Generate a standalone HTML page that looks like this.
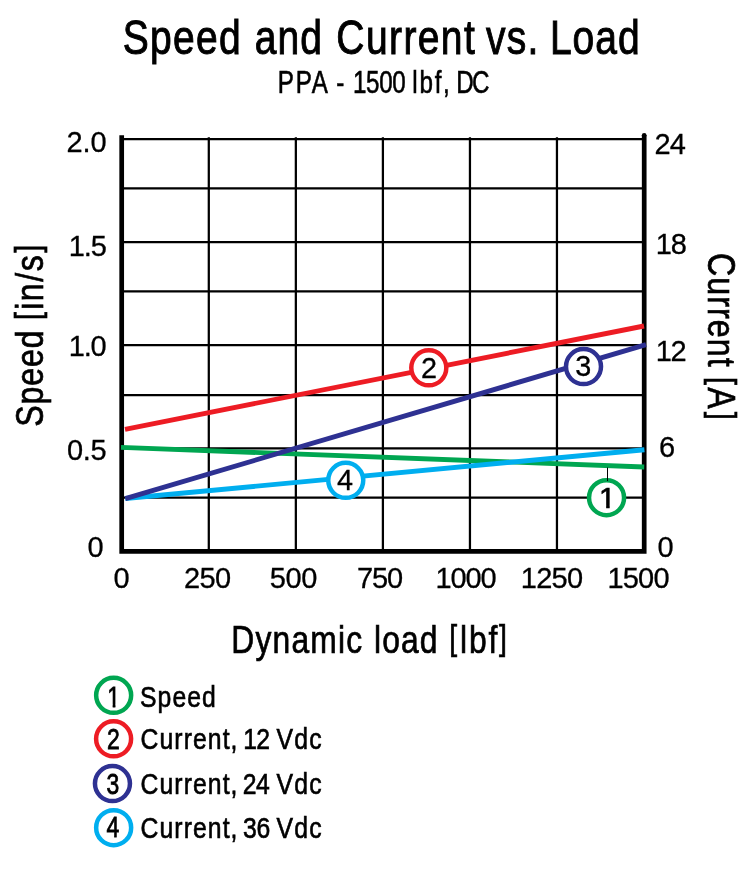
<!DOCTYPE html>
<html lang="en"><head><meta charset="utf-8"><title>Speed and Current vs. Load</title>
<style>html,body{margin:0;padding:0;background:#fff}svg{display:block}text{font-family:"Liberation Sans",Arial,Helvetica,sans-serif;fill:#000}</style></head><body>
<svg width="750" height="870" viewBox="0 0 750 870">
<rect width="750" height="870" fill="#fff"/>
<text transform="translate(0,53.8) scale(0.82,1)" font-size="47.6" stroke="#000" stroke-width="0.95"><tspan x="149.79" letter-spacing="1.539">Speed</tspan> <tspan x="310.71" letter-spacing="1.286">and</tspan> <tspan x="410.21" letter-spacing="1.689">Current</tspan> <tspan x="592.63" letter-spacing="1.473">vs.</tspan> <tspan x="670.60" letter-spacing="1.248">Load</tspan></text>
<text transform="translate(0,93.4) scale(0.78,1)" font-size="31" stroke="#000" stroke-width="0.6"><tspan x="356.10" letter-spacing="2.333">PPA</tspan> <tspan x="431.10" letter-spacing="0.0">-</tspan> <tspan x="452.55" letter-spacing="-0.458">1500</tspan> <tspan x="528.55" letter-spacing="2.278">lbf,</tspan> <tspan x="584.82" letter-spacing="-2.112">DC</tspan></text>
<g stroke="#000" stroke-width="2.25" fill="none">
<line x1="208.8" y1="137.2" x2="208.8" y2="551"/>
<line x1="295.85" y1="137.2" x2="295.85" y2="551"/>
<line x1="382.9" y1="137.2" x2="382.9" y2="551"/>
<line x1="469.95" y1="137.2" x2="469.95" y2="551"/>
<line x1="556.95" y1="137.2" x2="556.95" y2="551"/>
<line x1="121.9" y1="139.1" x2="644.4" y2="139.1"/>
<line x1="121.9" y1="188.3" x2="644.4" y2="188.3"/>
<line x1="121.9" y1="242.1" x2="644.4" y2="242.1"/>
<line x1="121.9" y1="291.4" x2="644.4" y2="291.4"/>
<line x1="121.9" y1="345.2" x2="644.4" y2="345.2"/>
<line x1="121.9" y1="395.0" x2="644.4" y2="395.0"/>
<line x1="121.9" y1="448.3" x2="644.4" y2="448.3"/>
<line x1="121.9" y1="497.7" x2="644.4" y2="497.7"/>
</g>
<path d="M121.7 135.3V551.3H644.2V135.3" stroke="#000" stroke-width="4.7" fill="none"/><circle cx="644.2" cy="135.3" r="2.35" fill="#000"/>
<g stroke-width="4.9" fill="none">
<line x1="121" y1="447.4" x2="644.2" y2="467" stroke="#00a651"/>
<line x1="125.3" y1="498.5" x2="644.4" y2="449.7" stroke="#00aeef"/>
<line x1="125.3" y1="498.6" x2="646" y2="344.6" stroke="#2e3192"/>
<line x1="125" y1="429.3" x2="644" y2="326" stroke="#ed1c24"/>
</g>
<clipPath id="k1"><path d="M590 480H625V505H609.64V510H606.18V505H590Z"/></clipPath><clipPath id="k2"><path d="M100 680H125V704H115.38V709H112.7V704H100Z"/></clipPath>
<circle cx="606.55" cy="497.65" r="17.5" fill="#fff" stroke="#00a651" stroke-width="4.5"/><g clip-path="url(#k1)"><text transform="translate(607.4,507.7)" font-size="30" text-anchor="middle" stroke="#000" stroke-width="0.7">1</text></g>
<line x1="607.5" y1="467.5" x2="607.5" y2="481" stroke="#000" stroke-width="1"/>
<circle cx="428.8" cy="367.85" r="17.5" fill="#fff" stroke="#ed1c24" stroke-width="4.5"/><text transform="translate(429.05,378.2)" font-size="28.8" text-anchor="middle" stroke="#000" stroke-width="0.3">2</text>
<circle cx="583.5" cy="366.6" r="17.5" fill="#fff" stroke="#2e3192" stroke-width="4.5"/><text transform="translate(583.35,376.1)" font-size="28.8" text-anchor="middle" stroke="#000" stroke-width="0.3">3</text>
<circle cx="345.75" cy="480.35" r="17.5" fill="#fff" stroke="#00aeef" stroke-width="4.5"/><text transform="translate(345.0,489.5)" font-size="28.8" text-anchor="middle" stroke="#000" stroke-width="0.3">4</text>
<text transform="translate(66.62,152.3)" font-size="29.0" letter-spacing="-0.151" stroke="#000" stroke-width="0.3">2.0</text>
<text transform="translate(68.68,256.0)" font-size="29.0" letter-spacing="-1.059" stroke="#000" stroke-width="0.3">1.5</text>
<text transform="translate(68.68,355.5)" font-size="29.0" letter-spacing="-1.143" stroke="#000" stroke-width="0.3">1.0</text>
<text transform="translate(67.07,460.0)" font-size="29.0" letter-spacing="-0.418" stroke="#000" stroke-width="0.3">0.5</text>
<text transform="translate(87.57,556.8)" font-size="29.0" letter-spacing="0.0" stroke="#000" stroke-width="0.3">0</text>
<text transform="translate(654.62,153.8)" font-size="29.0" letter-spacing="-0.902" stroke="#000" stroke-width="0.3">24</text>
<text transform="translate(655.78,253.8)" font-size="29.0" letter-spacing="-1.063" stroke="#000" stroke-width="0.3">18</text>
<text transform="translate(655.78,361.2)" font-size="29.0" letter-spacing="-1.533" stroke="#000" stroke-width="0.3">12</text>
<text transform="translate(658.95,456.7)" font-size="29.0" letter-spacing="0.0" stroke="#000" stroke-width="0.3">6</text>
<text transform="translate(657.57,557.0)" font-size="29.0" letter-spacing="0.0" stroke="#000" stroke-width="0.3">0</text>
<text transform="translate(113.47,587.6)" font-size="29.0" letter-spacing="0.0" stroke="#000" stroke-width="0.3">0</text>
<text transform="translate(184.12,587.6)" font-size="29.0" letter-spacing="-0.739" stroke="#000" stroke-width="0.3">250</text>
<text transform="translate(269.76,587.6)" font-size="29.0" letter-spacing="-0.359" stroke="#000" stroke-width="0.3">500</text>
<text transform="translate(356.90,587.6)" font-size="29.0" letter-spacing="-1.127" stroke="#000" stroke-width="0.3">750</text>
<text transform="translate(435.38,587.6)" font-size="29.0" letter-spacing="-1.116" stroke="#000" stroke-width="0.3">1000</text>
<text transform="translate(520.68,587.6)" font-size="29.0" letter-spacing="-0.677" stroke="#000" stroke-width="0.3">1250</text>
<text transform="translate(607.38,587.6)" font-size="29.0" letter-spacing="-0.783" stroke="#000" stroke-width="0.3">1500</text>
<text transform="translate(0,652.9) scale(0.82,1)" font-size="38.8" stroke="#000" stroke-width="0.7"><tspan x="282.00" y="0" letter-spacing="1.481">Dynamic</tspan> <tspan x="456.04" y="0" letter-spacing="1.385">load</tspan> <tspan x="547.88" font-size="34.6" y="-2.75" letter-spacing="0.0">[</tspan><tspan x="561.04" y="0" letter-spacing="2.224">lbf</tspan><tspan x="608.62" font-size="34.6" y="-2.75" letter-spacing="0.0">]</tspan></text>
<text transform="translate(42.9,425.6) rotate(-90) scale(0.82,1)" font-size="39.2" stroke="#000" stroke-width="0.7"><tspan x="-1.43" y="0" letter-spacing="1.038">Speed</tspan> <tspan x="128.85" font-size="34.6" y="-2.75" letter-spacing="0.0">[</tspan><tspan x="141.27" y="0" letter-spacing="1.835">in/s</tspan><tspan x="210.70" font-size="34.6" y="-2.75" letter-spacing="0.0">]</tspan></text>
<text transform="translate(708.2,254.3) rotate(90) scale(0.82,1)" font-size="39.2" stroke="#000" stroke-width="0.7"><tspan x="-1.56" y="0" letter-spacing="1.335">Current</tspan> <tspan x="149.71" font-size="34.6" y="-2.75" letter-spacing="0.0">[</tspan><tspan x="161.99" y="0" letter-spacing="0.0">A</tspan><tspan x="191.91" font-size="34.6" y="-2.75" letter-spacing="0.0">]</tspan></text>
<circle cx="113.65" cy="695.35" r="17.5" fill="#fff" stroke="#00a651" stroke-width="4.5"/><g clip-path="url(#k2)"><text transform="translate(113.5,706.7) scale(0.78,1)" font-size="29.4" text-anchor="middle" stroke="#000" stroke-width="0.8">1</text></g>
<text transform="translate(0,706.6) scale(0.82,1)" font-size="30.2" stroke="#000" stroke-width="0.65"><tspan x="170.80" letter-spacing="1.272">Speed</tspan></text>
<circle cx="113.6" cy="738.85" r="17.5" fill="#fff" stroke="#ed1c24" stroke-width="4.5"/><text transform="translate(113.25,749.2) scale(0.78,1)" font-size="29.4" text-anchor="middle" stroke="#000" stroke-width="0.8">2</text>
<text transform="translate(0,749.2) scale(0.82,1)" font-size="30.2" stroke="#000" stroke-width="0.65"><tspan x="171.40" letter-spacing="1.306">Current,</tspan> <tspan x="296.54" letter-spacing="-0.67">12</tspan> <tspan x="337.09" letter-spacing="1.49">Vdc</tspan></text>
<circle cx="112.45" cy="783.6" r="17.5" fill="#fff" stroke="#2e3192" stroke-width="4.5"/><text transform="translate(112.85,793.8) scale(0.78,1)" font-size="29.4" text-anchor="middle" stroke="#000" stroke-width="0.8">3</text>
<text transform="translate(0,793.7) scale(0.82,1)" font-size="30.2" stroke="#000" stroke-width="0.65"><tspan x="171.40" letter-spacing="1.306">Current,</tspan> <tspan x="295.98" letter-spacing="-0.674">24</tspan> <tspan x="337.09" letter-spacing="1.49">Vdc</tspan></text>
<circle cx="113.65" cy="827.65" r="17.5" fill="#fff" stroke="#00aeef" stroke-width="4.5"/><text transform="translate(112.85,837.3) scale(0.78,1)" font-size="29.4" text-anchor="middle" stroke="#000" stroke-width="0.8">4</text>
<text transform="translate(0,838.1) scale(0.82,1)" font-size="30.2" stroke="#000" stroke-width="0.65"><tspan x="171.40" letter-spacing="1.306">Current,</tspan> <tspan x="296.45" letter-spacing="-0.488">36</tspan> <tspan x="337.09" letter-spacing="1.49">Vdc</tspan></text>
</svg></body></html>
